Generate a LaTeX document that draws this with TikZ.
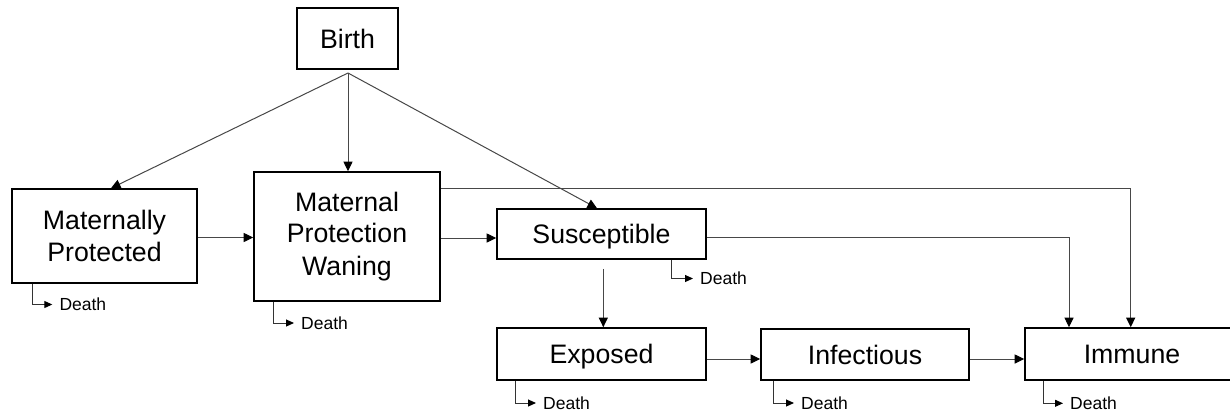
\documentclass[tikz,border=0pt]{standalone}
\usepackage{fontspec}
\setmainfont{Liberation Sans}
\usetikzlibrary{arrows.meta,calc}
\begin{document}
\begin{tikzpicture}[x=1pt,y=-1pt,
  box/.style={draw=black,line width=1.6pt,inner sep=0pt,align=center,
    font=\fontsize{26.7pt}{33.3pt}\selectfont},
  oneline/.style={text height=19.2pt,text depth=0pt},
  conn/.style={draw=black!72,line width=1pt,
    -{Triangle[length=9.5pt,width=9pt,color=black]}},
  dtext/.style={font=\fontsize{17.5pt}{20pt}\selectfont,anchor=west,inner sep=0pt},
  dconn/.style={draw=black!80,line width=1pt,
    -{Triangle[length=8pt,width=7pt,color=black]},shorten >=7pt}]
\useasboundingbox (0,0) rectangle (1230,415);

% boxes
\node[box,oneline,minimum width=101pt,minimum height=61pt] (birth) at (347.5,38.5) {Birth};
\node[box,minimum width=185pt,minimum height=94pt] (mp) at (104.5,236) {\raisebox{-2pt}{Maternally}\\Protected};
\node[box,minimum width=186pt,minimum height=129pt] (mpw) at (347,236.5) {\raisebox{-2pt}{Maternal}\\Protection\\Waning};
\node[box,oneline,minimum width=209pt,minimum height=50pt] (s) at (601.5,234) {Susceptible};
\node[box,oneline,minimum width=209pt,minimum height=52pt] (e) at (601.5,354) {Exposed};
\node[box,oneline,minimum width=208pt,minimum height=51pt] (i) at (865,354.5) {Infectious};
\node[box,oneline,minimum width=214pt,minimum height=52pt] (im) at (1132,354) {Immune};

% birth fan
\coordinate (bo) at (348,73);
\draw[conn] (bo) -- ([xshift=6.5pt]mp.north);
\draw[conn] (bo) -- (bo |- mpw.north);
\draw[conn] (bo) -- ([xshift=-4.5pt]s.north);

% horizontal flows
\draw[conn] ([yshift=-1.5pt]mp.east) -- ([yshift=-1.5pt]mp.east -| mpw.west);
\draw[conn] ([yshift=-1.5pt]mpw.east) -- ([yshift=-1.5pt]mpw.east -| s.west);
\draw[conn] ([yshift=-5pt]e.east) -- ([yshift=-5pt]e.east -| i.west);
\draw[conn] ([yshift=-4.5pt]i.east) -- ([yshift=-4.5pt]i.east -| im.west);

% susceptible to exposed
\draw[conn] ([xshift=1.8pt,yshift=-9pt]s.south) -- ([xshift=1.8pt]s.south |- e.north);

% to immune
\draw[conn] ([yshift=-3.7pt]s.east) -| ([xshift=-63pt]im.north);
\draw[conn] ([yshift=48pt]mpw.east) -| ([xshift=-1.3pt]im.north);

% deaths
\node[dtext] (dmp) at (59.3,304.5) {Death};
\node[dtext] (dmpw) at (301,323) {Death};
\node[dtext] (ds) at (700,278.5) {Death};
\node[dtext] (de) at (543,403) {Death};
\node[dtext] (di) at (801,403) {Death};
\node[dtext] (dim) at (1070,403.3) {Death};
\draw[dconn] ([xshift=21.3pt]mp.south west) |- (dmp.west);
\draw[dconn] ([xshift=20.3pt]mpw.south west) |- (dmpw.west);
\draw[dconn] ([xshift=175.7pt]s.south west) |- (ds.west);
\draw[dconn] ([xshift=19pt]e.south west) |- (de.west);
\draw[dconn] ([xshift=13pt]i.south west) |- (di.west);
\draw[dconn] ([xshift=19.7pt]im.south west) |- (dim.west);
\end{tikzpicture}
\end{document}
